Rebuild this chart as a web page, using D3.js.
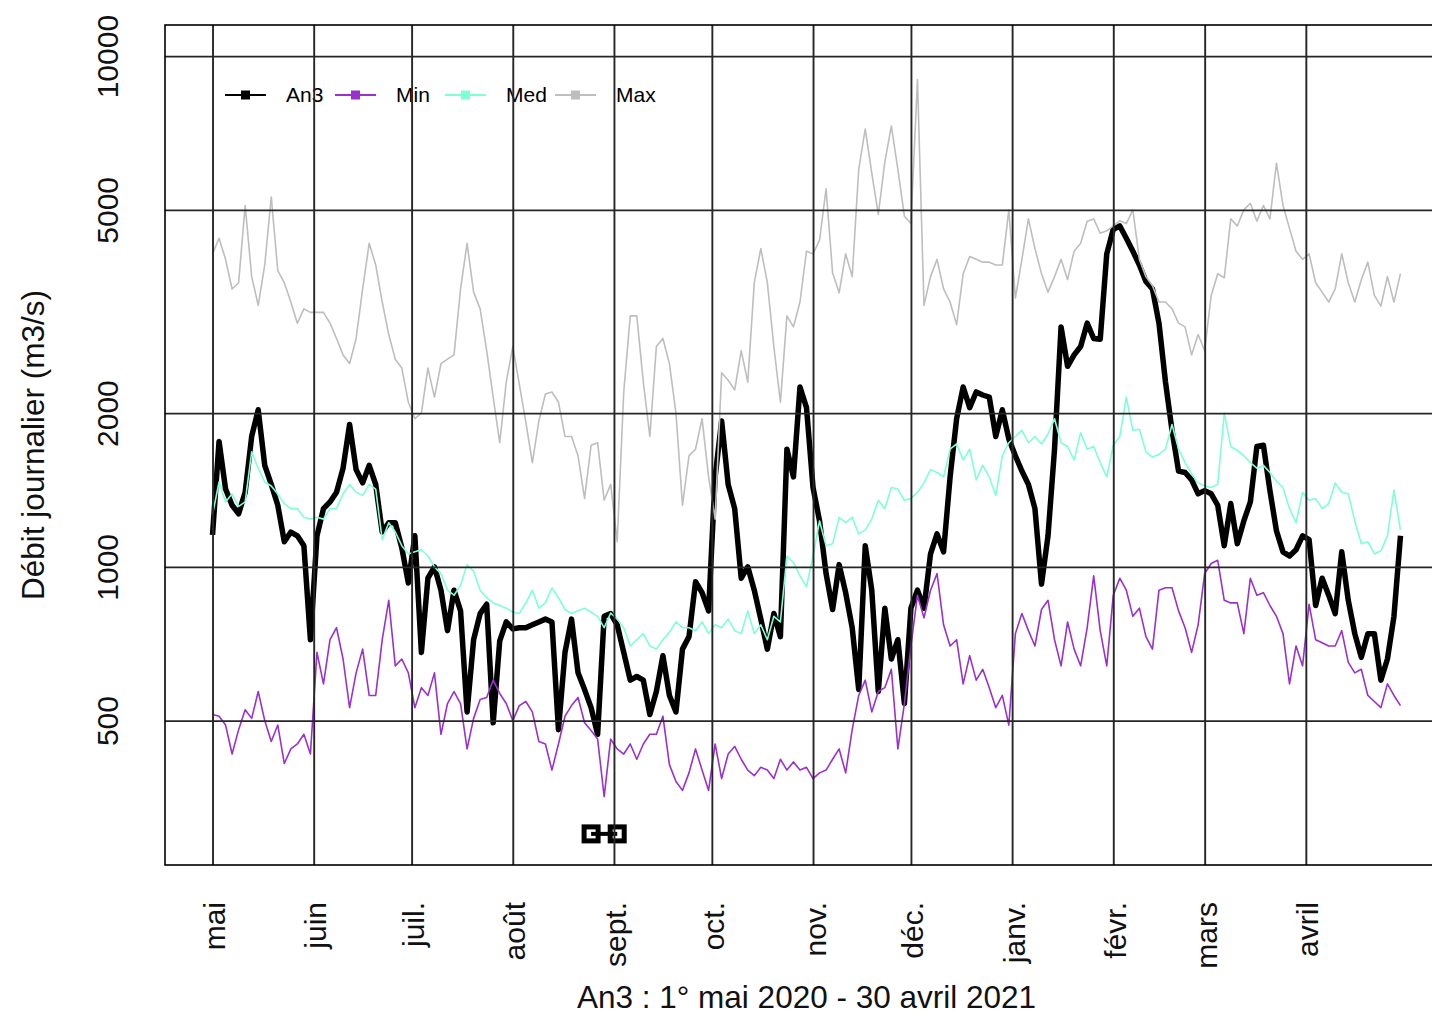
<!DOCTYPE html>
<html>
<head>
<meta charset="utf-8">
<script src="https://cdn.jsdelivr.net/npm/d3@7"></script>
<style>
body { margin: 0; background: #fff; }
text { font-family: "Liberation Sans", Arial, sans-serif; }
</style>
</head>
<body>
<div id="chart-container"></div>
<script>
// daily flow, one value every 2 days from 1 May 2020
var startDate = "2020-05-01";
var stepDays = 2;

var an3 = [
1155, 1760, 1420, 1320, 1270, 1400, 1800, 2030, 1580, 1450,
1320, 1120, 1170, 1150, 1100, 720, 1150, 1300, 1340, 1400,
1560, 1900, 1550, 1460, 1580, 1450, 1170, 1220, 1220, 1090,
930, 1150, 680, 950, 1000, 900, 750, 900, 820, 520,
720, 810, 845, 495, 716, 780, 756, 760, 760, 770,
780, 790, 780, 480, 680, 790, 620, 575, 530, 470,
800, 810, 770, 680, 600, 610, 600, 514, 570, 670,
560, 520, 690, 730, 935, 890, 820, 1500, 1930, 1450,
1300, 950, 1000, 900, 790, 690, 810, 730, 1700, 1500,
2250, 2050, 1430, 1230, 970, 825, 1010, 890, 760, 575,
1100, 900, 570, 830, 660, 720, 540, 830, 900, 830,
1060, 1160, 1070, 1500, 1950, 2250, 2050, 2200, 2170, 2150,
1800, 2030, 1780, 1650, 1540, 1450, 1300, 925, 1150, 1700,
2950, 2470, 2600, 2700, 3000, 2800, 2790, 4100, 4580, 4650,
4400, 4150, 3900, 3620, 3500, 3000, 2300, 1850, 1540, 1530,
1480, 1390, 1410, 1390, 1320, 1100, 1330, 1110, 1230, 1340,
1720, 1730, 1410, 1176, 1070, 1050, 1080, 1150, 1130, 840,
950, 880, 810, 1070, 860, 740, 665, 740, 740, 600,
660, 800, 1150
];

var minQ = [
514, 510, 490, 430, 480, 525, 505, 570, 500, 455,
490, 412, 440, 450, 470, 430, 680, 590, 720, 760,
660, 530, 620, 690, 560, 560, 720, 860, 640, 660,
620, 530, 580, 560, 620, 470, 540, 570, 540, 440,
505, 550, 555, 600, 565, 540, 500, 535, 545, 520,
455, 450, 400, 450, 510, 535, 555, 495, 478, 460,
355, 460, 440, 430, 450, 420, 450, 470, 470, 510,
410, 380, 365, 395, 440, 400, 365, 450, 385, 430,
445, 420, 400, 390, 405, 400, 385, 420, 400, 415,
400, 405, 385, 395, 400, 420, 440, 395, 480, 560,
600, 520, 570, 580, 630, 440, 540, 700, 880, 795,
900, 970, 770, 700, 720, 590, 670, 600, 630, 580,
530, 560, 490, 740, 810, 750, 700, 825, 860, 720,
640, 780, 690, 640, 760, 960, 750, 640, 880, 950,
900, 800, 830, 730, 690, 900, 910, 910, 820, 760,
680, 770, 970, 1015, 1030, 860, 850, 850, 740, 950,
880, 890, 840, 800, 740, 590, 700, 640, 845, 720,
710, 700, 700, 750, 650, 620, 630, 560, 545, 530,
590, 560, 535
];

var medQ = [
1265, 1466, 1340, 1390, 1313, 1340, 1680, 1560, 1466, 1440,
1388, 1330, 1300, 1300, 1250, 1240, 1250, 1240, 1300, 1300,
1390, 1450, 1400, 1380, 1450, 1420, 1130, 1220, 1170, 1100,
1060, 1070, 1080, 1050, 1000, 970, 900, 880, 920, 1010,
980, 900, 870, 850, 840, 830, 815, 810, 850, 900,
830, 850, 910, 870, 825, 810, 820, 830, 815, 800,
760, 812, 790, 760, 700, 720, 740, 700, 690, 720,
745, 780, 760, 760, 750, 780, 740, 770, 760, 790,
750, 740, 820, 740, 770, 720, 800, 780, 1050, 1020,
960, 915, 1050, 1230, 1100, 1110, 1250, 1220, 1250, 1160,
1180, 1240, 1350, 1300, 1430, 1420, 1350, 1360, 1400, 1460,
1550, 1530, 1500, 1700, 1740, 1620, 1700, 1480, 1580, 1500,
1380, 1650, 1750, 1800, 1850, 1750, 1800, 1740, 1820, 1950,
1750, 1720, 1620, 1830, 1700, 1720, 1600, 1500, 1730, 1800,
2150, 1850, 1860, 1680, 1640, 1660, 1700, 1900, 1700, 1600,
1520, 1460, 1440, 1430, 1450, 2000, 1720, 1690, 1650, 1600,
1560, 1580, 1530, 1470, 1430, 1300, 1220, 1400, 1350, 1360,
1300, 1330, 1460, 1400, 1390, 1230, 1110, 1120, 1060, 1075,
1150, 1414, 1180
];

var maxQ = [
4100, 4400, 4000, 3500, 3600, 5100, 3700, 3250, 3900, 5300,
3800, 3600, 3300, 3000, 3200, 3150, 3150, 3150, 3000, 2800,
2600, 2500, 2800, 3500, 4300, 3900, 3300, 2850, 2550, 2450,
2100, 1950, 2000, 2450, 2150, 2500, 2550, 2600, 3500, 4300,
3450, 3200, 2650, 2150, 1750, 2300, 2700, 2280, 1920, 1600,
1930, 2180, 2200, 2100, 1800, 1800, 1650, 1360, 1730, 1750,
1350, 1450, 1120, 2200, 3100, 3100, 2300, 1800, 2700, 2800,
2500, 2000, 1320, 1650, 1700, 1950, 1500, 1240, 2400, 2320,
2220, 2650, 2300, 3600, 4200, 3600, 2700, 2100, 3100, 2950,
3300, 4150, 4100, 4360, 5500, 3760, 3440, 4100, 3700, 6000,
7200, 5900, 4900, 6200, 7300, 6000, 4860, 4700, 9000, 3250,
3700, 4000, 3500, 3300, 2980, 3750, 4050, 4000, 3950, 3950,
3900, 3900, 5000, 3360, 4000, 4800, 4200, 3750, 3450, 3700,
4000, 3650, 4150, 4300, 4750, 4800, 4500, 4550, 4650, 4760,
4700, 5000, 4000, 3700, 3550, 3300, 3300, 3200, 3000, 2950,
2600, 2850, 2650, 3400, 3750, 3680, 4800, 4650, 5000, 5150,
4750, 5100, 4800, 6170, 5100, 4600, 4150, 4000, 4100, 3600,
3450, 3300, 3500, 4100, 3600, 3300, 3650, 3950, 3400, 3240,
3700, 3300, 3750
];

var monthLabels = ["mai", "juin", "juil.", "août", "sept.", "oct.", "nov.", "déc.", "janv.", "févr.", "mars", "avril"];
var yTicks = [500, 1000, 2000, 5000, 10000];
var yLimits = [300, 10000];
// low-water period marker, drawn at the bottom limit
var lowPeriod = ["2020-08-25", "2020-09-02"];

var seriesNames = ["An3", "Min", "Med", "Max"];
var seriesColors = ["#000000", "#9932cc", "#7fffd4", "#bebebe"];

var W = 1432, H = 1016;
var plotL = 165, plotR = 1448, plotT = 25, plotB = 865;

var svg = d3.select("#chart-container").append("svg")
	.attr("width", W)
	.attr("height", H);

var parse = d3.utcParse("%Y-%m-%d");
var t0 = parse(startDate);
var dates = an3.map(function(d, i) { return d3.utcDay.offset(t0, i * stepDays); });
var t1 = dates[dates.length - 1];
var span = t1 - t0;

// R style 4% padding on both axes
var x = d3.scaleUtc()
	.domain([new Date(+t0 - 0.04 * span), new Date(+t1 + 0.04 * span)])
	.range([plotL, plotR]);

var l0 = Math.log10(yLimits[0]), l1 = Math.log10(yLimits[1]);
var pad = 0.04 * (l1 - l0);
var y = d3.scaleLog()
	.domain([Math.pow(10, l0 - pad), Math.pow(10, l1 + pad)])
	.range([plotB, plotT]);

var monthTicks = d3.utcMonth.range(t0, t1);

var line = d3.line()
	.x(function(d) { return x(d.date); })
	.y(function(d) { return y(d.v); });

function pts(vals) {
	return vals.map(function(v, i) { return { date: dates[i], v: v }; });
}

// An3 first, thin reference lines over it
svg.append("path")
	.attr("d", line(pts(an3)))
	.attr("fill", "none")
	.attr("stroke", seriesColors[0])
	.attr("stroke-width", 5.5)
	.attr("stroke-linejoin", "round");

[minQ, medQ, maxQ].forEach(function(vals, k) {
	svg.append("path")
		.attr("d", line(pts(vals)))
		.attr("fill", "none")
		.attr("stroke", seriesColors[k + 1])
		.attr("stroke-width", 1.6)
		.attr("stroke-linejoin", "round");
});

// low period marker
var lp = lowPeriod.map(parse);
var yLow = yLimits[0];
svg.selectAll(".lowsq")
	.data(lp)
	.enter().append("rect")
	.attr("class", "lowsq")
	.attr("x", function(d) { return x(d) - 7; })
	.attr("y", y(yLow) - 7)
	.attr("width", 14)
	.attr("height", 14)
	.attr("fill", "#fff")
	.attr("stroke", "#000")
	.attr("stroke-width", 5);
svg.append("line")
	.attr("x1", x(lp[0])).attr("x2", x(lp[1]))
	.attr("y1", y(yLow)).attr("y2", y(yLow))
	.attr("stroke", "#000")
	.attr("stroke-width", 4);

// legend
var legend = svg.append("g").attr("transform", "translate(225,95)");
seriesNames.forEach(function(name, i) {
	var g = legend.append("g").attr("transform", "translate(" + (i * 110) + ",0)");
	g.append("line").attr("x1", 0).attr("x2", 41).attr("y1", 0).attr("y2", 0)
		.attr("stroke", seriesColors[i]).attr("stroke-width", 2);
	g.append("rect").attr("x", 16).attr("y", -4.5).attr("width", 9).attr("height", 9)
		.attr("fill", seriesColors[i]);
	g.append("text").attr("x", 61).attr("y", 0).attr("dy", "0.35em")
		.attr("font-size", 21).attr("fill", "#000").text(name);
});

// grid on top
svg.append("g")
	.attr("transform", "translate(" + plotL + ",0)")
	.call(d3.axisLeft(y).tickValues(yTicks).tickSize(-(plotR - plotL)).tickFormat(""))
	.call(function(g) { g.select(".domain").remove(); })
	.selectAll("line").attr("stroke", "#262626").attr("stroke-width", 1.9);

svg.append("g")
	.attr("transform", "translate(0," + plotB + ")")
	.call(d3.axisBottom(x).tickValues(monthTicks).tickSize(-(plotB - plotT)).tickFormat(""))
	.call(function(g) { g.select(".domain").remove(); })
	.selectAll("line").attr("stroke", "#262626").attr("stroke-width", 1.9);

// box
svg.append("rect")
	.attr("x", plotL).attr("y", plotT)
	.attr("width", plotR - plotL).attr("height", plotB - plotT)
	.attr("fill", "none").attr("stroke", "#000").attr("stroke-width", 1.6);

// y tick labels
var yAxis = svg.append("g")
	.attr("transform", "translate(" + plotL + ",0)")
	.call(d3.axisLeft(y).tickValues(yTicks).tickSize(0).tickFormat(d3.format("d")));
yAxis.select(".domain").remove();
yAxis.selectAll("text")
	.attr("x", 0).attr("dy", "0.35em")
	.attr("transform", "translate(-58,0) rotate(-90)")
	.attr("text-anchor", "middle")
	.attr("font-size", 30)
	.attr("font-family", "Liberation Sans, Arial, sans-serif")
	.attr("fill", "#111");

// x tick labels
var xAxis = svg.append("g")
	.attr("transform", "translate(0," + plotB + ")")
	.call(d3.axisBottom(x).tickValues(monthTicks).tickSize(0)
		.tickFormat(function(d, i) { return monthLabels[i]; }));
xAxis.select(".domain").remove();
xAxis.selectAll("text")
	.attr("y", 0).attr("x", 0).attr("dy", "0.4em")
	.attr("transform", "translate(0,37) rotate(-90)")
	.attr("text-anchor", "end")
	.attr("font-size", 30)
	.attr("font-family", "Liberation Sans, Arial, sans-serif")
	.attr("fill", "#111");

// titles
svg.append("text")
	.attr("transform", "translate(33," + ((plotT + plotB) / 2) + ") rotate(-90)")
	.attr("dy", "0.35em")
	.attr("text-anchor", "middle")
	.attr("font-size", 31.5)
	.attr("fill", "#111")
	.text("Débit journalier (m3/s)");

svg.append("text")
	.attr("x", (plotL + plotR) / 2)
	.attr("y", 1008)
	.attr("text-anchor", "middle")
	.attr("font-size", 31.5)
	.attr("fill", "#111")
	.text("An3 : 1° mai 2020 - 30 avril 2021");
</script>
</body>
</html>
